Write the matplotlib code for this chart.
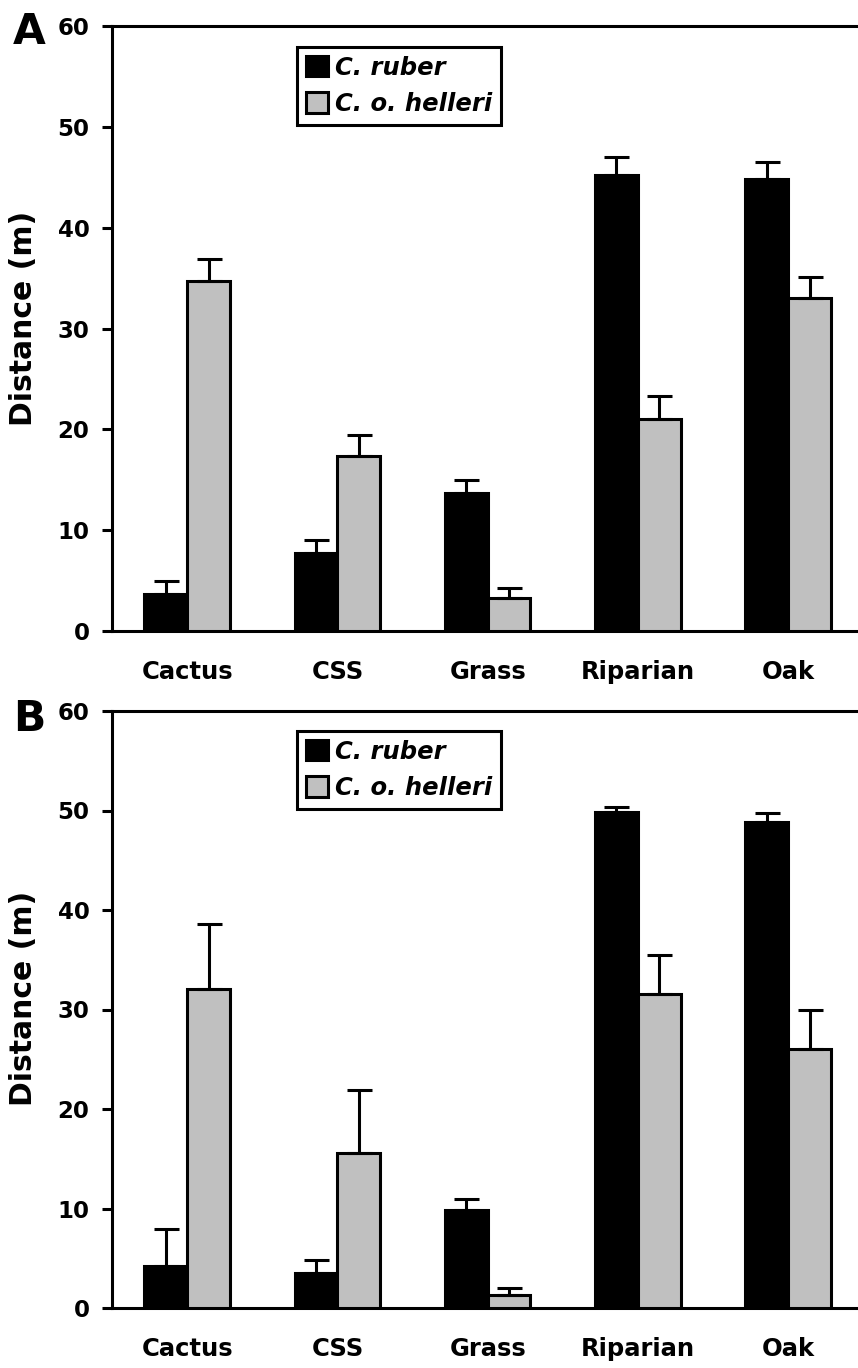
import matplotlib
matplotlib.use('Agg')
import matplotlib.pyplot as plt
import numpy as np
from matplotlib.patches import Patch
from matplotlib.font_manager import FontProperties

# ---- data ----
categories = ['Cactus', 'CSS', 'Grass', 'Riparian', 'Oak']
series_names = ['C. ruber', 'C. o. helleri']
yticks = [0, 10, 20, 30, 40, 50, 60]

a_ruber = [3.7, 7.7, 13.7, 45.2, 44.8]
a_ruber_se = [1.3, 1.3, 1.3, 1.8, 1.7]
a_helleri = [34.7, 17.4, 3.3, 21.0, 33.0]
a_helleri_se = [2.2, 2.0, 1.0, 2.3, 2.1]

b_ruber = [4.2, 3.5, 9.8, 49.8, 48.8]
b_ruber_se = [3.7, 1.3, 1.2, 0.6, 0.9]
b_helleri = [32.1, 15.6, 1.3, 31.6, 26.0]
b_helleri_se = [6.5, 6.3, 0.7, 3.9, 3.9]

plt.rcParams['font.family'] = ['DejaVu Sans']
plt.rcParams['font.weight'] = 'bold'

W, H = 858, 1368
fig = plt.figure(figsize=(W / 100, H / 100), dpi=100)


def px_axes(left, top, right, bottom):
    return fig.add_axes([left / W, 1 - bottom / H, (right - left) / W, (bottom - top) / H])


LW = 2.2
GRAY = '#c0c0c0'


def draw(ax, ruber, rse, hell, hse, label_y, leg_top_px):
    x = np.arange(len(categories))
    w = 0.285
    ekw = dict(ecolor='black', elinewidth=LW, capsize=9, capthick=LW, zorder=4)
    ax.bar(x - w / 2, ruber, w, color='black', edgecolor='black', linewidth=LW,
           yerr=[np.zeros(len(ruber)), rse], error_kw=ekw, zorder=3)
    ax.bar(x + w / 2, hell, w, color=GRAY, edgecolor='black', linewidth=LW,
           yerr=[np.zeros(len(hell)), hse], error_kw=ekw, zorder=3)
    ax.set_xlim(-0.5, 4.465)
    ax.set_ylim(0, 60)
    ax.set_yticks(yticks)
    ax.set_xticks(x)
    ax.set_xticklabels(categories)
    for s in ['left', 'top', 'bottom']:
        ax.spines[s].set_linewidth(LW)
    ax.spines['right'].set_visible(False)
    ax.tick_params(axis='y', direction='out', length=7.2, width=LW, pad=9, labelsize=16.5)
    ax.tick_params(axis='x', length=0, pad=21, labelsize=17.5)
    ax.set_ylabel('Distance (m)', fontsize=21.5, fontweight='bold', va='center')
    ax.yaxis.set_label_coords((24 - 112) / 746, label_y)
    handles = [Patch(facecolor='black', edgecolor='black', linewidth=LW),
               Patch(facecolor=GRAY, edgecolor='black', linewidth=LW)]
    leg = ax.legend(handles, series_names, loc='upper left',
                    bbox_to_anchor=((297 - 112) / 746, 1 - leg_top_px / ax.bbox.height),
                    borderaxespad=0, fancybox=False, framealpha=1,
                    prop=FontProperties(family='DejaVu Sans', weight='bold', style='italic', size=17.5),
                    borderpad=0.36, handlelength=0.9, handleheight=0.9, handletextpad=0.3,
                    labelspacing=0.5)
    leg.get_frame().set_edgecolor('black')
    leg.get_frame().set_linewidth(LW)


axA = px_axes(112, 26, 858, 631)
axB = px_axes(112, 711, 858, 1308)

draw(axA, a_ruber, a_ruber_se, a_helleri, a_helleri_se, 0.517, 21)
draw(axB, b_ruber, b_ruber_se, b_helleri, b_helleri_se, 0.518, 20)

fig.text(13 / W, 1 - 11 / H, 'A', fontsize=30.5, fontweight='bold', ha='left', va='top')
fig.text(13 / W, 1 - 698 / H, 'B', fontsize=30.5, fontweight='bold', ha='left', va='top')

fig.savefig('out.png', dpi=100)
